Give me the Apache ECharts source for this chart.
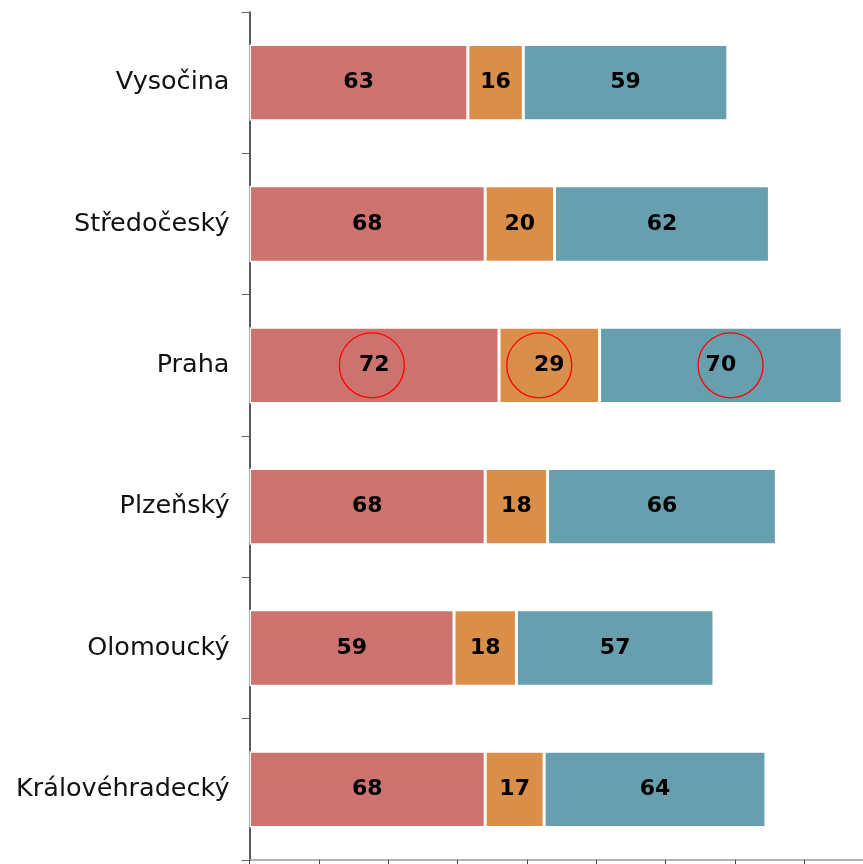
<!DOCTYPE html>
<html>
<head>
<meta charset="utf-8">
<script src="https://cdn.jsdelivr.net/npm/echarts@6/dist/echarts.min.js"></script>
<style>html,body{margin:0;padding:0;background:#fff}#c{width:863px;height:864px}</style>
</head>
<body>
<div id="c"></div>
<script>
const categories = ['Vysočina', 'Středočeský', 'Praha', 'Plzeňský', 'Olomoucký', 'Královéhradecký'];
const seriesA = [63, 68, 72, 68, 59, 68];
const seriesB = [16, 20, 29, 18, 18, 17];
const seriesC = [59, 62, 70, 66, 57, 64];
const highlightCategory = 'Praha';
const highlightX = [35.3, 83.6, 138.8];
const colors = ['#CC7370', '#D98F49', '#689FAE'];

const chart = echarts.init(document.getElementById('c'), null, {renderer: 'canvas'});
const labelStyle = {show: true, position: 'inside', color: '#000', fontFamily: 'DejaVu Sans', fontWeight: 'bold', fontSize: 22};
function mk(name, data, color, extra) {
  return Object.assign({
    name, type: 'bar', stack: 'total', data, barWidth: '54%',
    itemStyle: {color, borderColor: '#fff', borderWidth: 1.5},
    label: labelStyle, silent: true
  }, extra || {});
}
chart.setOption({
  animation: false,
  grid: {left: 249.5, right: -2, top: 12, bottom: 4, containLabel: false},
  xAxis: {
    type: 'value', min: 0, max: 177, interval: 20,
    axisLine: {show: true, lineStyle: {color: '#999', width: 1.5}},
    axisTick: {show: true, length: 6, lineStyle: {color: '#444'}},
    axisLabel: {show: false}, splitLine: {show: false}
  },
  yAxis: {
    type: 'category', data: categories, inverse: true,
    axisLine: {show: true, lineStyle: {color: '#222', width: 1.5}},
    axisTick: {show: true, length: 8, lineStyle: {color: '#666'}},
    axisLabel: {color: '#111', fontFamily: 'DejaVu Sans', fontSize: 25.5, margin: 20}
  },
  series: [
    mk('A', seriesA, colors[0], {
      markPoint: {
        symbol: 'circle', symbolSize: 65, silent: true,
        itemStyle: {color: 'rgba(0,0,0,0)', borderColor: '#ff0000', borderWidth: 1.3},
        label: {show: false},
        data: highlightX.map(x => ({coord: [x, highlightCategory]}))
      }
    }),
    mk('B', seriesB, colors[1]),
    mk('C', seriesC, colors[2])
  ]
});
</script>
</body>
</html>
